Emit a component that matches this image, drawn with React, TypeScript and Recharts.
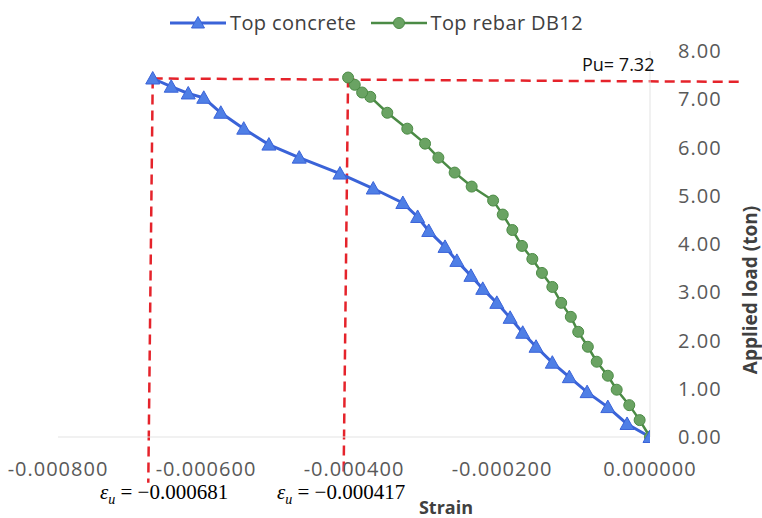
import React from "react";
import { ComposedChart, Line, XAxis, YAxis, ReferenceLine, Legend } from "recharts";

// Top concrete gauge (blue triangles)
const concreteStrain = [
  0, -0.000031, -0.000057, -0.000085, -0.000109, -0.000132, -0.000154, -0.000172, -0.000189,
  -0.000207, -0.000226, -0.000242, -0.000261, -0.000277, -0.000299, -0.000314, -0.000334,
  -0.000374, -0.000419, -0.000474, -0.000515, -0.000549, -0.00058, -0.000603, -0.000624,
  -0.000647, -0.000672,
];
const concreteLoad = [
  0, 0.27, 0.62, 0.93, 1.24, 1.54, 1.87, 2.16, 2.47, 2.78, 3.07, 3.34, 3.65, 3.94, 4.27, 4.56,
  4.85, 5.15, 5.46, 5.79, 6.06, 6.39, 6.72, 7.03, 7.12, 7.26, 7.43,
];

// Top rebar DB12 gauge (green circles)
const rebarStrain = [
  0, -0.000014, -0.000028, -0.000045, -0.000057, -0.000072, -0.000084, -0.000097, -0.000107,
  -0.00012, -0.000132, -0.000146, -0.000159, -0.000173, -0.000186, -0.000199, -0.000212,
  -0.000241, -0.000264, -0.000286, -0.000304, -0.000328, -0.000355, -0.000378, -0.000389,
  -0.000399, -0.000408,
];
const rebarLoad = [
  0, 0.35, 0.66, 0.98, 1.27, 1.56, 1.87, 2.18, 2.49, 2.78, 3.11, 3.4, 3.69, 3.96, 4.29, 4.61,
  4.9, 5.19, 5.48, 5.79, 6.08, 6.39, 6.72, 7.05, 7.14, 7.3, 7.45,
];

const strainTicks = [-0.0008, -0.0006, -0.0004, -0.0002, 0];
const loadTicks = [0, 1, 2, 3, 4, 5, 6, 7, 8];

// hand-drawn guide lines (data coords)
const puGuide = [
  { x: -0.000672, y: 7.43 },
  { x: 0.000126, y: 7.36 },
];
const concreteGuide = [
  { x: -0.000672, y: 7.43 },
  { x: -0.000678, y: -0.95 },
];
const rebarGuide = [
  { x: -0.000408, y: 7.45 },
  { x: -0.000414, y: -0.75 },
];

const puLabel = "Pu= 7.32";
const concreteEpsLabel = "−0.000681";
const rebarEpsLabel = "−0.000417";

const concreteData = concreteStrain.map((s, i) => ({ strain: s, load: concreteLoad[i] }));
const rebarData = rebarStrain.map((s, i) => ({ strain: s, load: rebarLoad[i] }));

const BLUE = "#3a63d8";
const GREEN = "#4b8b45";
const RED = "#e5232b";

const Triangle = (props: any) => {
  const { cx, cy, index } = props;
  if (cx == null || cy == null) return <g key={`t-${index}`} />;
  return (
    <polygon
      key={`t-${index}`}
      points={`${cx},${cy - 7} ${cx - 7},${cy + 5.5} ${cx + 7},${cy + 5.5}`}
      fill="#4f7fe6"
      stroke="#3a63d8"
      strokeWidth={1}
    />
  );
};

const Circle = (props: any) => {
  const { cx, cy, index } = props;
  if (cx == null || cy == null) return <g key={`c-${index}`} />;
  return <circle key={`c-${index}`} cx={cx} cy={cy} r={5.5} fill="#6aa363" stroke="#4b8b45" strokeWidth={1} />;
};

const renderLegend = () => (
  <div style={{ display: "flex", alignItems: "center", fontFamily: "Open Sans", fontSize: 20, color: "#404040", letterSpacing: 0.4 }}>
    <svg width={56} height={16}>
      <line x1={0} y1={8} x2={56} y2={8} stroke={BLUE} strokeWidth={3} />
      <polygon points="28,1.5 21.5,13 34.5,13" fill="#4f7fe6" stroke={BLUE} />
    </svg>
    <span style={{ marginLeft: 4, marginRight: 14 }}>Top concrete</span>
    <svg width={56} height={16}>
      <line x1={0} y1={8} x2={56} y2={8} stroke={GREEN} strokeWidth={2.5} />
      <circle cx={28} cy={8} r={5.5} fill="#6aa363" stroke={GREEN} />
    </svg>
    <span style={{ marginLeft: 4 }}>Top rebar DB12</span>
  </div>
);

const epsStyle: React.CSSProperties = {
  position: "absolute",
  fontFamily: "Liberation Serif",
  fontSize: 21,
  color: "#000",
  whiteSpace: "nowrap",
  lineHeight: 1,
};

export default function App() {
  return (
    <div style={{ position: "relative", width: 762, height: 518, background: "#fff" }}>
      <style>{"body{margin:0}"}</style>
      <ComposedChart width={762} height={518} margin={{ top: 51, right: 32, left: 58, bottom: 51 }}>
        <XAxis
          type="number"
          dataKey="strain"
          domain={[-0.0008, 0]}
          ticks={strainTicks}
          allowDataOverflow
          tickFormatter={(v: number) => v.toFixed(6)}
          tick={{ fill: "#595959", fontSize: 20, fontFamily: "Open Sans", letterSpacing: 1 }}
          tickLine={false}
          tickSize={0}
          tickMargin={25}
          stroke="#e3e3e3"
          height={30}
          label={{
            content: () => (
              <text x={446} y={514} textAnchor="middle" fontFamily="Open Sans" fontWeight="bold" fontSize={18} fill="#404040">
                Strain
              </text>
            ),
          }}
        />
        <YAxis
          type="number"
          dataKey="load"
          orientation="right"
          domain={[0, 8]}
          ticks={loadTicks}
          tickFormatter={(v: number) => v.toFixed(2)}
          tick={{ fill: "#595959", fontSize: 20, fontFamily: "Open Sans", letterSpacing: 1 }}
          tickLine={false}
          tickSize={0}
          tickMargin={28}
          stroke="#e3e3e3"
          width={80}
          label={{
            content: () => (
              <text
                x={757}
                y={290}
                transform="rotate(-90 757 290)"
                textAnchor="middle"
                fontFamily="Open Sans"
                fontWeight="bold"
                fontSize={19}
                fill="#404040"
              >
                Applied load (ton)
              </text>
            ),
          }}
        />
        <Legend
          content={renderLegend}
          layout="horizontal"
          verticalAlign="middle"
          align="center"
          wrapperStyle={{ position: "absolute", top: 9, left: 170, width: "auto" }}
        />
        <ReferenceLine segment={puGuide} stroke={RED} strokeWidth={2.5} strokeDasharray="10 6" ifOverflow="visible" />
        <ReferenceLine segment={concreteGuide} stroke={RED} strokeWidth={2.5} strokeDasharray="10 6" ifOverflow="visible" />
        <ReferenceLine segment={rebarGuide} stroke={RED} strokeWidth={2.5} strokeDasharray="10 6" ifOverflow="visible" />
        <Line
          data={rebarData}
          dataKey="load"
          name="Top rebar DB12"
          stroke={GREEN}
          strokeWidth={2.5}
          dot={Circle}
          activeDot={false}
          isAnimationActive={false}
        />
        <Line
          data={concreteData}
          dataKey="load"
          name="Top concrete"
          stroke={BLUE}
          strokeWidth={3}
          dot={Triangle}
          activeDot={false}
          isAnimationActive={false}
        />
      </ComposedChart>
      <div style={{ position: "absolute", left: 582, top: 55, fontFamily: "Open Sans", fontSize: 18, color: "#111", lineHeight: 1 }}>
        {puLabel}
      </div>
      <div style={{ ...epsStyle, left: 100, top: 482 }}>
        <i>ε</i>
        <sub style={{ fontSize: 14 }}>
          <i>u</i>
        </sub>
        {" = " + concreteEpsLabel}
      </div>
      <div style={{ ...epsStyle, left: 277, top: 482 }}>
        <i>ε</i>
        <sub style={{ fontSize: 14 }}>
          <i>u</i>
        </sub>
        {" = " + rebarEpsLabel}
      </div>
    </div>
  );
}
